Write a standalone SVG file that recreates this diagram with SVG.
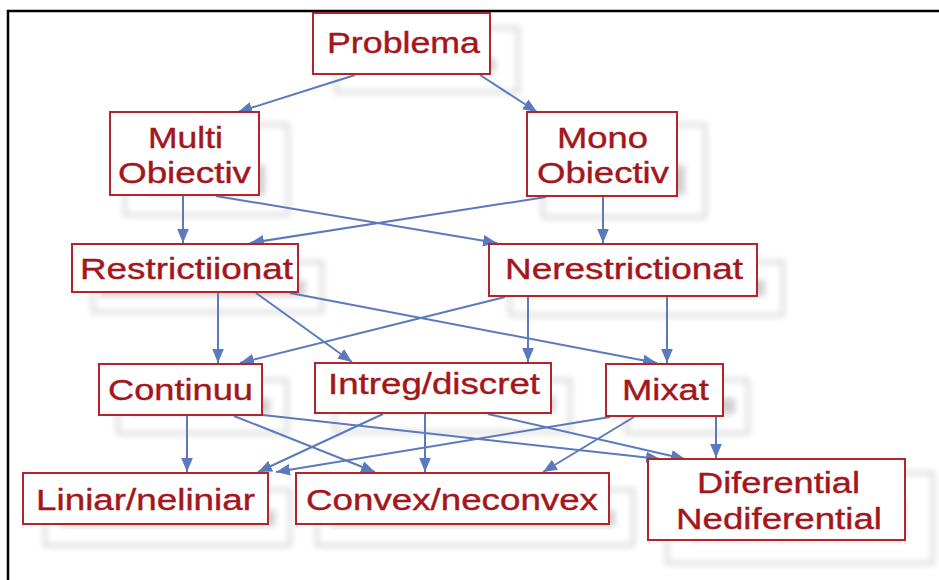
<svg xmlns="http://www.w3.org/2000/svg" width="939" height="580" viewBox="0 0 939 580">
<defs>
<style>
.box{fill:#ffffff;stroke:#b3252b;stroke-width:2}
.lbl{font-family:"Liberation Sans",Arial,sans-serif;font-size:30px;fill:#a3161c;stroke:#a3161c;stroke-width:0.4}
.edge{stroke:#5b7abd;stroke-width:2;fill:none;marker-end:url(#ah)}
.sh{fill:#ffffff;stroke:#dadada;stroke-width:4;filter:url(#blur)}
.shb{fill:#cfcfcf;filter:url(#blur)}
</style>
<filter id="blur" x="-20%" y="-20%" width="140%" height="140%"><feGaussianBlur stdDeviation="3"/></filter>
<marker id="ah" viewBox="0 0 12 10" refX="12" refY="5" markerWidth="14" markerHeight="12" markerUnits="userSpaceOnUse" orient="auto">
<path d="M0,0 L12,5 L0,10 Z" fill="#5b7abd"/>
</marker>
</defs>
<rect width="939" height="580" fill="#ffffff"/>
<path d="M8,580 V11 H939" fill="none" stroke="#000" stroke-width="2.5"/>

<g id="shadows">
<rect class="sh" x="336" y="28" width="182" height="64"/><rect class="shb" x="345" y="58" width="150" height="14"/>
<rect class="sh" x="125" y="125" width="163" height="90"/><rect class="shb" x="145" y="165" width="120" height="30"/>
<rect class="sh" x="543" y="125" width="162" height="92"/><rect class="shb" x="565" y="165" width="120" height="30"/>
<rect class="sh" x="93" y="262" width="229" height="50"/><rect class="shb" x="100" y="280" width="205" height="16"/>
<rect class="sh" x="510" y="262" width="273" height="53"/><rect class="shb" x="525" y="280" width="240" height="16"/>
<rect class="sh" x="118" y="380" width="169" height="53"/><rect class="shb" x="130" y="398" width="140" height="16"/>
<rect class="sh" x="335" y="380" width="235" height="52"/><rect class="shb" x="345" y="396" width="210" height="16"/>
<rect class="sh" x="627" y="380" width="121" height="53"/><rect class="shb" x="640" y="398" width="95" height="16"/>
<rect class="sh" x="45" y="490" width="245" height="55"/><rect class="shb" x="60" y="510" width="215" height="16"/>
<rect class="sh" x="317" y="490" width="316" height="55"/><rect class="shb" x="330" y="510" width="285" height="16"/>
<rect class="sh" x="667" y="473" width="266" height="90"/><rect class="shb" x="690" y="500" width="215" height="40"/>
</g>

<g id="connectors">
<line class="edge" x1="355" y1="75" x2="238" y2="112"/>
<line class="edge" x1="480" y1="75" x2="537" y2="112"/>
<line class="edge" x1="183" y1="196" x2="183" y2="243"/>
<line class="edge" x1="216" y1="196" x2="497" y2="243"/>
<line class="edge" x1="546" y1="197" x2="250" y2="243"/>
<line class="edge" x1="603" y1="197" x2="603" y2="243"/>
<line class="edge" x1="218" y1="293" x2="218" y2="363"/>
<line class="edge" x1="256" y1="293" x2="352" y2="362"/>
<line class="edge" x1="290" y1="293" x2="657" y2="363"/>
<line class="edge" x1="505" y1="297" x2="240" y2="363"/>
<line class="edge" x1="528" y1="297" x2="528" y2="362"/>
<line class="edge" x1="667" y1="297" x2="667" y2="363"/>
<line class="edge" x1="187" y1="416" x2="187" y2="472"/>
<line class="edge" x1="234" y1="416" x2="375" y2="472"/>
<line class="edge" x1="253" y1="414" x2="660" y2="459"/>
<line class="edge" x1="383" y1="414" x2="258" y2="472"/>
<line class="edge" x1="425" y1="414" x2="425" y2="472"/>
<line class="edge" x1="488" y1="414" x2="685" y2="459"/>
<line class="edge" x1="610" y1="417" x2="276" y2="472"/>
<line class="edge" x1="634" y1="417" x2="543" y2="472"/>
<line class="edge" x1="716" y1="417" x2="716" y2="458"/>
</g>

<g id="problema"><rect class="box" x="313" y="13" width="177" height="61"/><text class="lbl" x="327" y="53" textLength="153" lengthAdjust="spacingAndGlyphs">Problema</text></g>
<g id="multi"><rect class="box" x="110" y="112" width="149" height="83"/><text class="lbl" x="148" y="148" textLength="75" lengthAdjust="spacingAndGlyphs">Multi</text><text class="lbl" x="118" y="183" textLength="133" lengthAdjust="spacingAndGlyphs">Obiectiv</text></g>
<g id="mono"><rect class="box" x="527" y="112" width="150" height="84"/><text class="lbl" x="557" y="148" textLength="91" lengthAdjust="spacingAndGlyphs">Mono</text><text class="lbl" x="537" y="183" textLength="132" lengthAdjust="spacingAndGlyphs">Obiectiv</text></g>
<g id="restrictionat"><rect class="box" x="72" y="244" width="226" height="48"/><text class="lbl" x="80" y="279" textLength="213" lengthAdjust="spacingAndGlyphs">Restrictiionat</text></g>
<g id="nerestrictionat"><rect class="box" x="489" y="244" width="268" height="52"/><text class="lbl" x="505" y="279" textLength="238" lengthAdjust="spacingAndGlyphs">Nerestrictionat</text></g>
<g id="continuu"><rect class="box" x="99" y="364" width="163" height="51"/><text class="lbl" x="108" y="400" textLength="145" lengthAdjust="spacingAndGlyphs">Continuu</text></g>
<g id="intreg"><rect class="box" x="315" y="363" width="236" height="50"/><text class="lbl" x="328" y="394" textLength="212" lengthAdjust="spacingAndGlyphs">Intreg/discret</text></g>
<g id="mixat"><rect class="box" x="606" y="364" width="117" height="52"/><text class="lbl" x="622" y="400" textLength="87" lengthAdjust="spacingAndGlyphs">Mixat</text></g>
<g id="liniar"><rect class="box" x="23" y="473" width="245" height="51"/><text class="lbl" x="36" y="510" textLength="219" lengthAdjust="spacingAndGlyphs">Liniar/neliniar</text></g>
<g id="convex"><rect class="box" x="296" y="473" width="313" height="51"/><text class="lbl" x="306" y="510" textLength="292" lengthAdjust="spacingAndGlyphs">Convex/neconvex</text></g>
<g id="diferential"><rect class="box" x="648" y="459" width="257" height="81"/><text class="lbl" x="697" y="493" textLength="163" lengthAdjust="spacingAndGlyphs">Diferential</text><text class="lbl" x="676" y="529" textLength="206" lengthAdjust="spacingAndGlyphs">Nediferential</text></g>
</svg>
